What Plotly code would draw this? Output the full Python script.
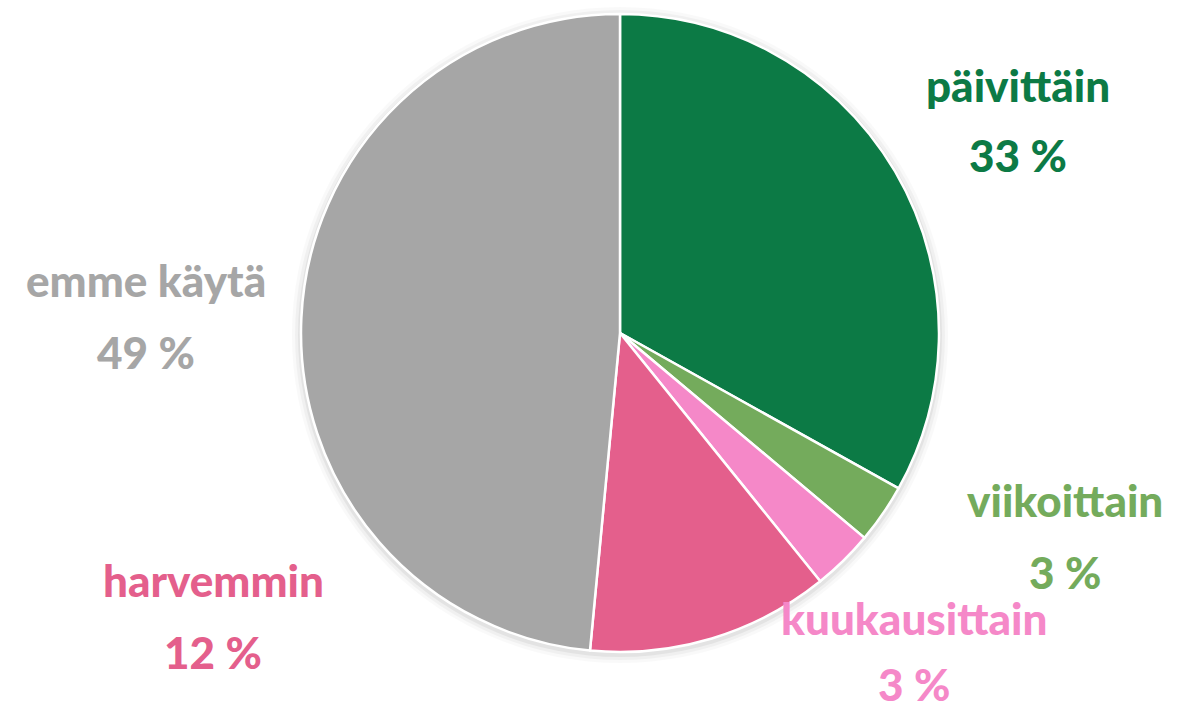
import plotly.graph_objects as go

labels = ["päivittäin", "viikoittain", "kuukausittain", "harvemmin", "emme käytä"]
values = [33.1, 3.0, 3.1, 12.3, 48.5]        # slice sizes
pct_text = ["33 %", "3 %", "3 %", "12 %", "49 %"]  # printed labels
colors = ["#0c7a45", "#74ab5c", "#f588c8", "#e45f8c", "#a6a6a6"]

# label placement in pixels (centre of the name line / value line)
label_x = [1018, 1065, 914, 213, 146]
name_y = [85, 500, 618, 580, 280]
value_y = [155, 572, 684, 652, 352]

W, H = 1179, 711
cx, cy, r = 620, 333, 319


def dom(rad, dy=0):
    return dict(x=[(cx - rad) / W, (cx + rad) / W],
                y=[1 - (cy + dy + rad) / H, 1 - (cy + dy - rad) / H])


fig = go.Figure()

# soft drop shadow behind the pie
for grow, alpha in ((9, 0.025), (6, 0.035), (3, 0.05)):
    fig.add_trace(go.Pie(
        values=[1], marker=dict(colors=[f"rgba(0,0,0,{alpha})"], line=dict(width=0)),
        textinfo="none", hoverinfo="skip", showlegend=False, sort=False,
        domain=dom(r + grow, 2),
    ))

fig.add_trace(go.Pie(
    labels=labels,
    values=values,
    sort=False,
    direction="clockwise",
    rotation=0,
    marker=dict(colors=colors, line=dict(color="white", width=2.5)),
    textinfo="none",
    hoverinfo="label",
    showlegend=False,
    domain=dom(r),
))

font_family = "Lato, 'Open Sans', sans-serif"
for lab, pct, col, x, y1, y2 in zip(labels, pct_text, colors, label_x, name_y, value_y):
    for txt, y in ((lab, y1), (pct, y2)):
        fig.add_annotation(x=x / W, y=1 - y / H, xref="paper", yref="paper", text=txt,
                           xanchor="center", yanchor="middle", showarrow=False,
                           font=dict(family=font_family, size=44, color=col, weight=900))

fig.update_layout(
    width=W,
    height=H,
    margin=dict(l=0, r=0, t=0, b=0),
    paper_bgcolor="white",
    plot_bgcolor="white",
)

fig.write_html("out.html", config={"displayModeBar": False},
               post_script="document.body.style.margin='0';")
